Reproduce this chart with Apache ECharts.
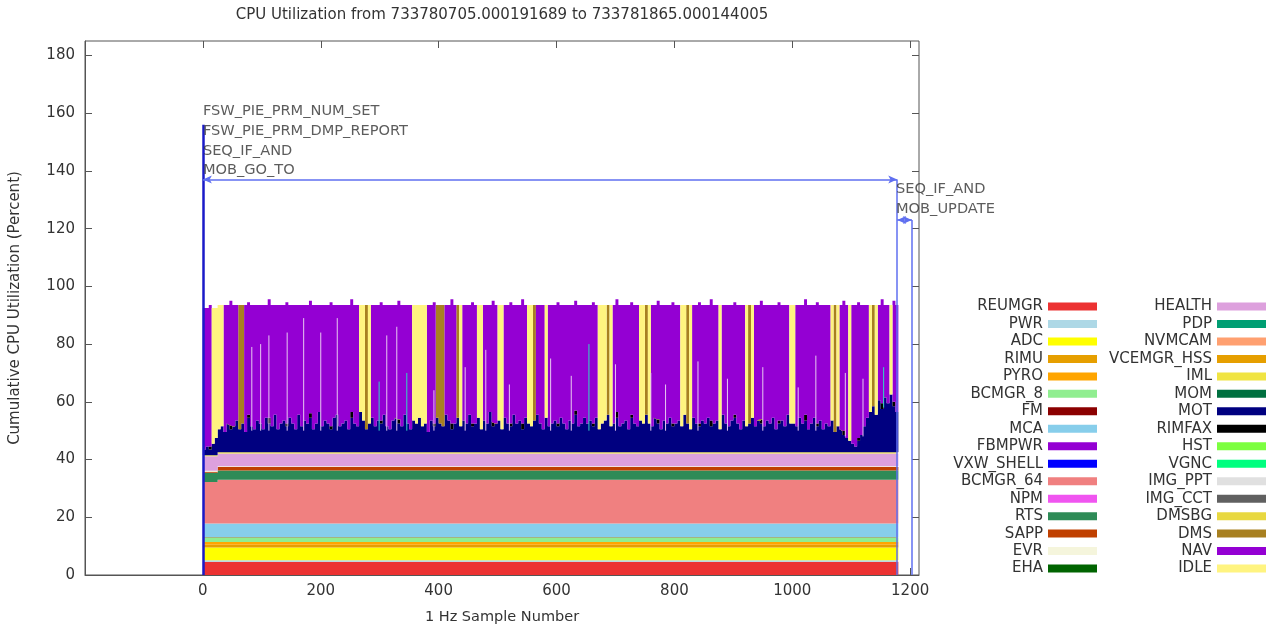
<!DOCTYPE html>
<html><head><meta charset="utf-8">
<script src="https://cdn.jsdelivr.net/npm/echarts@6/dist/echarts.min.js"></script>
<style>html,body{margin:0;padding:0;background:#fff}#c{width:1276px;height:630px}</style>
</head><body><div id="c"></div>
<script>
// ---------------- data ----------------
const TITLE = 'CPU Utilization from 733780705.000191689 to 733781865.000144005';
const X_NAME = '1 Hz Sample Number';
const Y_NAME = 'Cumulative CPU Utilization (Percent)';
const STEP = 5;            // samples are read every 5 s
const LAST_SAMPLE = 1180;
const X_TICKS = [0, 200, 400, 600, 800, 1000, 1200];
const Y_TICKS = [0, 20, 40, 60, 80, 100, 120, 140, 160, 180];

const LEFT_NAMES = ['REUMGR','PWR','ADC','RIMU','PYRO','BCMGR_8','FM','MCA','FBMPWR','VXW_SHELL','BCMGR_64','NPM','RTS','SAPP','EVR','EHA'];
const RIGHT_NAMES = ['HEALTH','PDP','NVMCAM','VCEMGR_HSS','IML','MOM','MOT','RIMFAX','HST','VGNC','IMG_PPT','IMG_CCT','DMSBG','DMS','NAV','IDLE'];

// nearly constant layers as runs: [fromSample, percent]
const REUMGR = [[0, 4.6]];
const PWR = [[0, 0.5]];
const ADC = [[0, 4.4]];
const RIMU = [[0, 1.0]];
const PYRO = [[0, 0.9]];
const BCMGR_8 = [[0, 1.7]];
const FM = [[0, 0.1]];
const MCA = [[0, 4.6]];
const FBMPWR = [[0, 0]];
const VXW_SHELL = [[0, 0]];
const BCMGR_64 = [[0, 14.4], [25, 15.2]];
const NPM = [[0, 0]];
const RTS = [[0, 3.2]];
const SAPP = [[0, 0.4], [25, 1.2]];
const EVR = [[0, 0.3]];
const EHA = [[0, 0]];
const HEALTH = [[0, 5.0], [25, 4.4]];
const PDP = [[0, 0]];
const NVMCAM = [[0, 0]];
const VCEMGR_HSS = [[0, 0]];
const IML = [[0, 0.4]];
const MOM = [[0, 0]];
const HST = [[0, 0]];
const VGNC = [[0, 0]];
const IMG_PPT = [[0, 0]];
const IMG_CCT = [[0, 0]];
const DMSBG = [[0, 0]];

// noisy layers, one value every STEP samples (0..1180)
const MOT = [
 2,3,2,4,6,8,9,7,10,8, 9,11,8,10,7,12,9,8,11,10, 8,12,10,9,13,8,10,11,9,12,
 10,8,13,9,11,10,12,8,10,14, 9,11,10,8,12,13,9,10,11,8, 12,10,9,14,11,8,10,12,9,11,
 10,13,9,8,11,12,10,9,13,10, 8,11,10,12,9,10,7,11,9,12, 10,9,13,11,8,10,12,9,11,10,
 13,9,10,12,8,11,10,14,9,10, 11,8,12,10,9,13,10,11,8,12, 10,9,11,13,10,8,12,9,10,11,
 9,12,10,8,11,10,13,9,10,12, 10,11,9,12,8,10,11,13,9,10, 12,9,10,11,8,12,10,9,11,10,
 13,10,9,12,10,8,11,10,12,9, 10,11,9,13,10,8,12,10,9,11, 10,12,9,10,11,8,13,10,9,11,
 12,10,8,11,9,10,12,9,11,10, 9,11,10,12,8,10,11,9,13,10, 10,9,12,10,11,8,10,12,9,11,
 8,10,9,11,7,9,8,6,5,4, 3,2,4,6,9,12,14,16,13,18, 15,19,17,20,16,14,12
];
const NAV = [
 49,48,49,0,0,0,0,44,41,43, 42,40,0,0,44,39,42,43,40,41, 43,39,41,42,38,43,41,40,42,39,
 41,43,38,42,40,41,39,43,41,37, 42,40,41,43,39,38,42,41,40,43, 39,41,42,0,0,0,0,39,42,40,
 41,38,42,43,40,39,41,42,38,41, 43,0,0,0,0,0,44,40,42,0, 0,0,38,40,43,41,0,0,40,41,
 38,42,41,0,0,40,41,37,42,41, 0,0,39,41,42,38,41,40,43,39, 0,0,0,38,41,43,0,42,41,40,
 42,39,41,43,40,41,38,42,41,39, 41,40,42,39,0,0,0,0,0,41, 39,42,41,40,43,39,41,42,0,0,
 0,0,42,39,41,43,40,41,39,42, 41,40,0,0,0,0,39,41,42,40, 41,39,42,41,40,0,38,41,42,40,
 39,41,43,40,0,0,0,42,40,41, 42,40,41,39,43,41,40,42,38,0, 0,42,39,41,40,43,41,39,42,40,
 43,41,42,0,0,0,43,45,46,0, 48,49,47,45,42,39,0,0,0,33, 36,32,34,0,35,37,39
];
// sparse layers: [sample, percent]
const IDLE_PTS = [[15,47],[20,45],[25,43],[30,42],[265,37],[270,40],[280,41],[355,40],[360,41],[365,39],[370,42],[375,41],
 [435,42],[465,39],[470,43],[500,40],[505,43],[550,41],[555,42],[580,39],[670,43],[675,41],[680,40],[690,42],
 [740,40],[745,41],[755,41],[810,42],[815,38],[825,43],[875,43],[920,42],[930,39],[995,41],[1000,41],
 [1065,40],[1075,42],[1095,47],[1130,37],[1140,38],[1165,31]];
const DMS_PTS = [[60,43],[65,41],[275,43],[395,39],[400,41],[405,42],[430,39],[560,40],[685,38],[750,38],[820,41],[925,41],[1070,44],[1135,35]];
const RIMFAX_PTS = [[10,1],[45,1.5],[75,1],[110,2],[140,1],[180,1.5],[215,1],[250,2],[300,1],[330,1.5],[390,1],[420,2],[455,1],[490,1.5],
 [520,1],[540,2],[600,1],[630,1.5],[660,1],[700,2],[725,1],[770,1.5],[795,1],[840,1],[860,2],[900,1],[945,1.5],[975,1],[1020,2],
 [1040,1],[1085,1.5],[1110,1],[1150,2],[1170,1.5]];

// one-second spikes of small tasks seen inside the purple band: [sample, from %, to %]
const LIGHT_SPIKES = [[83,50,79],[98,50,80],[112,50,83],[143,50,84],[171,50,89],[200,50,84],[228,50,89],[312,50,83],[329,50,86],
 [392,50,64],[445,50,72],[480,50,78],[520,50,66],[590,50,75],[625,50,69],[700,50,73],[760,50,70],[785,50,66],[840,50,74],
 [890,50,68],[950,50,72],[1010,50,65],[1040,50,76],[1090,48,70],[1120,48,68]];
const CYAN_SPIKES = [[299,50,67],[346,50,70],[655,50,80],[1155,58,72]];

// event annotations
const EVENT_LINES = [ {x: 0, top: 156}, {x: 1178, top: 137}, {x: 1203, top: 123} ];
const EVENT_SPANS = [ {from: 0, to: 1178, y: 137}, {from: 1178, to: 1203, y: 123} ];
const EVENT_TEXTS = [
  {x: 0, y: 164, lines: ['FSW_PIE_PRM_NUM_SET','FSW_PIE_PRM_DMP_REPORT','SEQ_IF_AND','MOB_GO_TO']},
  {x: 1176, y: 137, lines: ['SEQ_IF_AND','MOB_UPDATE']}
];

// ---------------- styles ----------------
const COLORS = {
  REUMGR:'#ec3232', PWR:'#add8e6', ADC:'#ffff00', RIMU:'#e69f00', PYRO:'#ffa500', BCMGR_8:'#90ee90', FM:'#8b0000',
  MCA:'#87ceeb', FBMPWR:'#9400d3', VXW_SHELL:'#0000ff', BCMGR_64:'#f08080', NPM:'#f055f0', RTS:'#2e8b57', SAPP:'#c04000',
  EVR:'#f5f5dc', EHA:'#006400', HEALTH:'#dda0dd', PDP:'#009e73', NVMCAM:'#ffa070', VCEMGR_HSS:'#e69f00', IML:'#f0e442',
  MOM:'#007040', MOT:'#000080', RIMFAX:'#000000', HST:'#7cff40', VGNC:'#00ff7f', IMG_PPT:'#e0e0e0', IMG_CCT:'#606060',
  DMSBG:'#e8d840', DMS:'#a88020', NAV:'#9400d3', IDLE:'#fff480'
};
const FONT = 'DejaVu Sans';

// ---------------- build ----------------
const N = LAST_SAMPLE / STEP + 1;
const xs = Array.from({length: N}, (_, i) => i * STEP);
const fromRuns = runs => xs.map(x => { let v = 0; for (const [s, val] of runs) if (x >= s) v = val; return v; });
const fromPts = pts => { const m = new Map(pts); return xs.map(x => m.has(x) ? m.get(x) : 0); };

const VALUES = {
  REUMGR: fromRuns(REUMGR), PWR: fromRuns(PWR), ADC: fromRuns(ADC), RIMU: fromRuns(RIMU), PYRO: fromRuns(PYRO),
  BCMGR_8: fromRuns(BCMGR_8), FM: fromRuns(FM), MCA: fromRuns(MCA), FBMPWR: fromRuns(FBMPWR), VXW_SHELL: fromRuns(VXW_SHELL),
  BCMGR_64: fromRuns(BCMGR_64), NPM: fromRuns(NPM), RTS: fromRuns(RTS), SAPP: fromRuns(SAPP), EVR: fromRuns(EVR), EHA: fromRuns(EHA),
  HEALTH: fromRuns(HEALTH), PDP: fromRuns(PDP), NVMCAM: fromRuns(NVMCAM), VCEMGR_HSS: fromRuns(VCEMGR_HSS), IML: fromRuns(IML),
  MOM: fromRuns(MOM), MOT: MOT, RIMFAX: fromPts(RIMFAX_PTS), HST: fromRuns(HST), VGNC: fromRuns(VGNC), IMG_PPT: fromRuns(IMG_PPT),
  IMG_CCT: fromRuns(IMG_CCT), DMSBG: fromRuns(DMSBG), DMS: fromPts(DMS_PTS), NAV: NAV, IDLE: fromPts(IDLE_PTS)
};

// value first, sample second, so the library stacks the percent dimension
const stackSeries = LEFT_NAMES.concat(RIGHT_NAMES).map(name => ({
  name, type: 'line', stack: 'cpu', step: 'end', symbol: 'none', silent: true, z: 2,
  encode: {x: 1, y: 0},
  data: xs.map((x, i) => [VALUES[name][i], x]),
  lineStyle: {width: 0, color: COLORS[name]},
  itemStyle: {color: COLORS[name]},
  areaStyle: {color: COLORS[name], opacity: 1}
}));

const spikeSeries = (id, spikes, color) => ({
  name: id, type: 'line', symbol: 'none', silent: true, z: 3, connectNulls: false,
  data: spikes.flatMap(([s, a, b]) => [[s, a], [s, b], [s, null]]),
  lineStyle: {width: 1, color}
});

const EVENT_BLUE = '#5f6ff0';
const markData = [];
EVENT_LINES.forEach((e, k) => {
  markData.push([{coord: [e.x, 0], symbol: 'none', lineStyle: k === 0 ? {color: '#1a1ac8', width: 2.5, type: 'solid'} : {color: EVENT_BLUE, width: 1.5, type: 'solid'}},
                 {coord: [e.x, e.top], symbol: 'none'}]);
});
EVENT_SPANS.forEach(s => {
  markData.push([{coord: [s.from, s.y], symbol: 'arrow', symbolSize: [6, 9], lineStyle: {color: EVENT_BLUE, width: 1.5, type: 'solid'}},
                 {coord: [s.to, s.y], symbol: 'arrow', symbolSize: [6, 9]}]);
});

const annotationSeries = {
  type: 'scatter', name: '_events', symbolSize: 0, z: 10, silent: true,
  data: EVENT_TEXTS.map(t => ({value: [t.x, t.y], text: t.lines.join('\n')})),
  label: {
    show: true, position: [0, 0], align: 'left', verticalAlign: 'top',
    formatter: p => p.data.text, color: '#333', fontSize: 14.6, lineHeight: 19.7, fontFamily: FONT
  },
  markLine: {silent: true, symbol: ['none', 'none'], lineStyle: {type: 'solid'}, label: {show: false}, animation: false, data: markData}
};

const legendCommon = {
  orient: 'vertical', align: 'right', icon: 'rect', itemWidth: 49, itemHeight: 8, itemGap: 2.47,
  padding: 0, top: 299, selectedMode: false,
  textStyle: {color: '#333', fontSize: 15, lineHeight: 15, fontFamily: FONT}
};
const plain = v => String(v);

const chart = echarts.init(document.getElementById('c'), null, {renderer: 'canvas'});
chart.setOption({
  animation: false,
  backgroundColor: '#fff',
  title: {text: TITLE, left: 502, top: 8, padding: 0, textAlign: 'center',
          textStyle: {fontSize: 15, fontWeight: 'normal', color: '#333', fontFamily: FONT}},
  legend: [
    Object.assign({data: LEFT_NAMES, right: 179}, legendCommon),
    Object.assign({data: RIGHT_NAMES, right: 10}, legendCommon)
  ],
  grid: {left: 85, right: 357, top: 41, bottom: 55, show: true, borderColor: '#555', borderWidth: 1, backgroundColor: 'transparent'},
  xAxis: [
    {type: 'value', min: -200, max: 1215, name: X_NAME, nameLocation: 'middle', nameGap: 35,
     nameTextStyle: {fontSize: 14.5, color: '#333', fontFamily: FONT},
     axisLine: {show: true, onZero: false, lineStyle: {color: '#555'}},
     axisTick: {show: true, inside: true, length: 7, customValues: X_TICKS, lineStyle: {color: '#555'}},
     axisLabel: {customValues: X_TICKS, formatter: plain, fontSize: 15, color: '#333', margin: 9, fontFamily: FONT},
     splitLine: {show: false}},
    {type: 'value', min: -200, max: 1215, position: 'top',
     axisLine: {show: false, onZero: false}, axisTick: {show: true, inside: true, length: 7, customValues: X_TICKS, lineStyle: {color: '#555'}},
     axisLabel: {show: false, customValues: X_TICKS}, splitLine: {show: false}}
  ],
  yAxis: [
    {type: 'value', min: 0, max: 185, name: Y_NAME, nameLocation: 'middle', nameGap: 62,
     nameTextStyle: {fontSize: 15, color: '#333', fontFamily: FONT},
     axisLine: {show: true, onZero: false, lineStyle: {color: '#555'}},
     axisTick: {show: true, inside: true, length: 7, customValues: Y_TICKS, lineStyle: {color: '#555'}},
     axisLabel: {customValues: Y_TICKS, formatter: plain, fontSize: 15, color: '#333', margin: 10, fontFamily: FONT},
     splitLine: {show: false}},
    {type: 'value', min: 0, max: 185, position: 'right',
     axisLine: {show: false, onZero: false}, axisTick: {show: true, inside: true, length: 7, customValues: Y_TICKS, lineStyle: {color: '#555'}},
     axisLabel: {show: false, customValues: Y_TICKS}, splitLine: {show: false}}
  ],
  series: stackSeries.concat([
    spikeSeries('_lightSpikes', LIGHT_SPIKES, '#e8c8f0'),
    spikeSeries('_cyanSpikes', CYAN_SPIKES, '#30d8c0'),
    annotationSeries
  ])
});
</script></body></html>
